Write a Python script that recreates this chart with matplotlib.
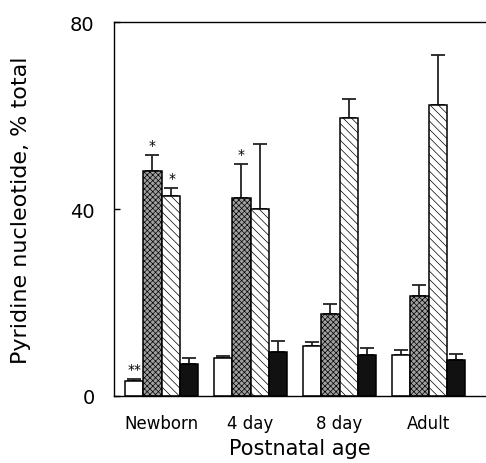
import numpy as np
import matplotlib
matplotlib.use('Agg')
import matplotlib.pyplot as plt

plt.rcParams['font.family'] = ['DejaVu Sans']
plt.rcParams['hatch.linewidth'] = 0.5

ages = ['Newborn', '4 day', '8 day', 'Adult']

# four series, values (% total)
s_open = [3.3, 8.1, 10.7, 8.8]
s_open_err = [0.4, 0.5, 0.8, 1.0]
s_dark = [48.2, 42.4, 17.5, 21.4]
s_dark_err = [3.3, 7.2, 2.2, 2.4]
s_hatch = [42.8, 40.0, 59.4, 62.2]
s_hatch_err = [1.8, 14.0, 4.2, 10.8]
s_black = [6.8, 9.4, 8.8, 7.6]
s_black_err = [1.3, 2.4, 1.4, 1.4]

# significance marks: (group, series index, text)
stars = [(0, 0, '**'), (0, 1, '*'), (0, 2, '*'), (1, 1, '*')]

series = [s_open, s_dark, s_hatch, s_black]
errs = [s_open_err, s_dark_err, s_hatch_err, s_black_err]
faces = ['white', '#a0a0a0', 'white', '#111111']
hatches = [None, 'xxxxxx', '\\\\\\\\', None]

fig = plt.figure(figsize=(4.86, 4.64), dpi=100)
ax = fig.add_axes([0.2346, 0.1444, 0.7654, 0.806])

x = np.arange(len(ages))
w = 0.205
for k in range(4):
    xs = x + (k - 1.5) * w
    ax.bar(xs, series[k], width=w, color=faces[k], edgecolor='black',
           linewidth=1.1, hatch=hatches[k], zorder=2)
    ax.errorbar(xs, series[k], yerr=[np.zeros(4), errs[k]], fmt='none',
                ecolor='#222222', elinewidth=1.3, capsize=5, capthick=1.3,
                zorder=1)

for g, k, t in stars:
    top = series[k][g] + errs[k][g]
    xo = 0.01 if (t == '*' and k == 2) else 0
    ax.annotate(t, (x[g] + (k - 1.5) * w + xo, top), xytext=(0, 2),
                textcoords='offset points', ha='center', va='bottom',
                fontsize=10)

ax.set_xlim(-0.534, 3.646)
ax.set_ylim(0, 80)
ax.set_yticks([0, 40, 80])
ax.set_xticks(x)
ax.set_xticklabels(ages, fontsize=12)
ax.tick_params(axis='y', direction='in', length=4, width=1, pad=14, labelsize=14)
ax.tick_params(axis='x', length=0, pad=13)
ax.spines['right'].set_visible(False)
for s in ['left', 'top', 'bottom']:
    ax.spines[s].set_linewidth(1.0)

ax.set_ylabel('Pyridine nucleotide, % total', fontsize=16, labelpad=28)
ax.set_xlabel('Postnatal age', fontsize=15, labelpad=4)

fig.savefig('out.png', dpi=100)
